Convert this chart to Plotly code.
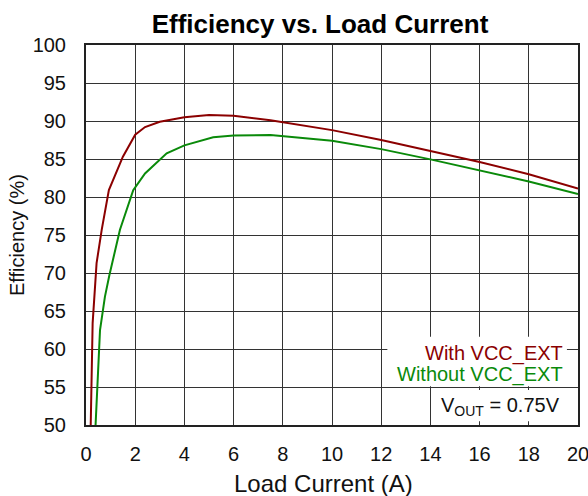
import plotly.graph_objects as go

# Data
with_vcc_current = [0.18, 0.23, 0.27, 0.43, 0.64, 0.93, 1.5, 2.0, 2.4, 3.0, 4.0, 5.0, 6.0, 7.5, 10, 12, 14, 16, 18, 20]
with_vcc_eff = [48, 58.1, 63.4, 71.3, 75.7, 80.9, 85.3, 88.2, 89.2, 89.9, 90.5, 90.8, 90.7, 90.1, 88.8, 87.5, 86.05, 84.6, 83.0, 81.1]

without_vcc_current = [0.36, 0.5, 0.57, 0.77, 0.95, 1.38, 1.92, 2.4, 3.28, 4.0, 5.17, 6.0, 7.5, 10, 12, 14, 16, 18, 20]
without_vcc_eff = [48, 58.1, 62.5, 66.9, 69.7, 75.7, 80.9, 83.1, 85.75, 86.8, 87.85, 88.1, 88.15, 87.4, 86.3, 84.95, 83.5, 82.05, 80.4]

x_ticks = [0, 2, 4, 6, 8, 10, 12, 14, 16, 18, 20]
y_ticks = [50, 55, 60, 65, 70, 75, 80, 85, 90, 95, 100]

RED = "#8b0000"
GREEN = "#0a8a0a"
FONT = "Liberation Sans, Arial, sans-serif"

W, H = 588, 496

fig = go.Figure()
fig.add_trace(go.Scatter(x=with_vcc_current, y=with_vcc_eff, mode="lines",
                         line=dict(color=RED, width=2), name="With VCC_EXT"))
fig.add_trace(go.Scatter(x=without_vcc_current, y=without_vcc_eff, mode="lines",
                         line=dict(color=GREEN, width=2), name="Without VCC_EXT"))

fig.update_layout(
    width=W, height=H,
    margin=dict(l=86, r=10, t=45, b=71, autoexpand=False),
    paper_bgcolor="white", plot_bgcolor="white",
    showlegend=False,
    font=dict(family=FONT, color="#111"),
    title=dict(text="<b>Efficiency vs. Load Current</b>", x=320/W, xref="container",
               y=1-24/H, yref="container", xanchor="center", yanchor="middle",
               font=dict(size=26, color="black", family=FONT)),
)
fig.update_xaxes(range=[0, 20], tickvals=x_ticks, ticktext=[str(v) for v in x_ticks],
                 automargin=False, ticklabeloverflow="allow",
                 showgrid=True, gridcolor="#333", gridwidth=1,
                 showline=True, linecolor="#222", linewidth=2, mirror=True,
                 zeroline=False, ticks="", tickfont=dict(size=20, color="#111"),
                 ticklabelstandoff=10)
fig.update_yaxes(range=[50, 100], tickvals=y_ticks, ticktext=[str(v) for v in y_ticks],
                 automargin=False, ticklabeloverflow="allow",
                 showgrid=True, gridcolor="#333", gridwidth=1,
                 showline=True, linecolor="#222", linewidth=2, mirror=True,
                 zeroline=False, ticks="", tickfont=dict(size=20, color="#111"),
                 ticklabelstandoff=14)

# white boxes behind legend text and VOUT note
fig.add_shape(type="rect", xref="x", yref="y", x0=12.25, x1=19.55, y0=55.1, y1=61.6,
              fillcolor="white", line=dict(width=0), layer="above")
fig.add_shape(type="rect", xref="x", yref="y", x0=14.1, x1=19.85, y0=50.5, y1=54.6,
              fillcolor="white", line=dict(width=0), layer="above")

fig.add_annotation(x=19.47, y=59.4, xref="x", yref="y", text="With VCC_EXT", showarrow=False,
                   xanchor="right", yanchor="middle", font=dict(size=20, color=RED, family=FONT))
fig.add_annotation(x=19.47, y=56.6, xref="x", yref="y", text="Without VCC_EXT", showarrow=False,
                   xanchor="right", yanchor="middle", font=dict(size=20, color=GREEN, family=FONT))
fig.add_annotation(x=19.35, y=52.4, xref="x", yref="y", text="V<sub>OUT</sub> = 0.75V", showarrow=False,
                   xanchor="right", yanchor="middle", font=dict(size=20, color="#111", family=FONT))

# axis titles
fig.add_annotation(x=(323-86)/492, y=(425-483)/380, xref="paper", yref="paper",
                   text="Load Current (A)", showarrow=False, xanchor="center", yanchor="middle",
                   borderpad=0, font=dict(size=24, color="#111", family=FONT))
fig.add_annotation(x=(17-86)/492, y=0.5, xref="paper", yref="paper",
                   text="Efficiency (%)", showarrow=False, xanchor="center", yanchor="middle",
                   textangle=-90, font=dict(size=20, color="#111", family=FONT))

fig.write_html(
    "out.html",
    config={"displayModeBar": False},
    post_script="document.body.style.margin='0';document.documentElement.style.overflow='hidden';",
)
